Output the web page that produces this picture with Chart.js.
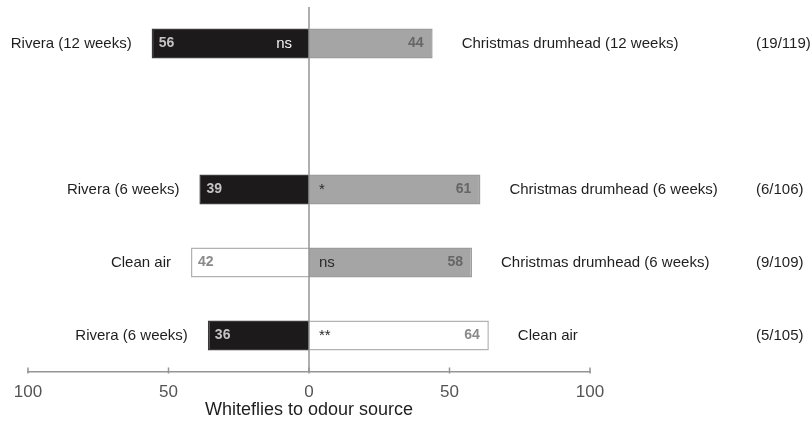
<!DOCTYPE html>
<html>
<head>
<meta charset="utf-8">
<script src="https://cdn.jsdelivr.net/npm/chart.js@4"></script>
<style>
  html, body { margin: 0; padding: 0; background: #ffffff; }
  #wrap { width: 812px; height: 421px; position: relative; }
</style>
</head>
<body>
<div id="wrap"><canvas id="chart"></canvas></div>
<script>
// Two-choice olfactometer tests: share of whiteflies choosing each odour source.
// The empty slot (null) keeps the gap between the 12-week and the 6-week tests.
const leftSources  = ['Rivera (12 weeks)', null, 'Rivera (6 weeks)', 'Clean air', 'Rivera (6 weeks)'];
const rightSources = ['Christmas drumhead (12 weeks)', null, 'Christmas drumhead (6 weeks)', 'Christmas drumhead (6 weeks)', 'Clean air'];
const leftPercent  = [56, null, 39, 42, 36];
const rightPercent = [44, null, 61, 58, 64];
const significance = ['ns', null, '*', 'ns', '**'];
const nonChoosers  = ['(19/119)', null, '(6/106)', '(9/109)', '(5/105)'];
const tickValues   = [-100, -50, 0, 50, 100];
const axisTitle    = 'Whiteflies to odour source';

const FONT = '"Liberation Sans", Arial, Helvetica, sans-serif';

// Fill / outline / text colours for each kind of odour source
function sourceStyle(name) {
  if (!name) return { fill: '#ffffff', edge: '#ffffff', value: '#000', sig: '#000' };
  if (name.startsWith('Rivera')) return { fill: '#1c1a1a', edge: '#3a3838', value: '#c4c4c4', sig: '#f2f2f2' };
  if (name.startsWith('Christmas')) return { fill: '#a5a5a5', edge: '#9c9c9c', value: '#666666', sig: '#2a2a2a' };
  return { fill: '#ffffff', edge: '#b2b2b2', value: '#8a8a8a', sig: '#2a2a2a' };
}

const slots = leftSources.map((_, i) => String(i));

function drawCentreLine(chart) {
  const { ctx, chartArea, scales } = chart;
  const x0 = scales.x.getPixelForValue(0);
  ctx.save();
  ctx.strokeStyle = '#959595';
  ctx.lineWidth = 1.5;
  ctx.beginPath();
  ctx.moveTo(x0, chartArea.top);
  ctx.lineTo(x0, chartArea.bottom);
  ctx.stroke();
  ctx.restore();
}

const labelPlugin = {
  id: 'choiceLabels',
  afterDatasetsDraw(chart) {
    const { ctx, chartArea, scales } = chart;
    const x0 = scales.x.getPixelForValue(0);
    const leftMeta = chart.getDatasetMeta(0);
    const rightMeta = chart.getDatasetMeta(1);

    // centre line drawn over the bars
    drawCentreLine(chart);

    ctx.save();
    // small upward tick marks on the axis
    ctx.strokeStyle = '#959595';
    ctx.lineWidth = 1.5;
    tickValues.forEach(v => {
      const tx = scales.x.getPixelForValue(v);
      ctx.beginPath();
      ctx.moveTo(tx, chartArea.bottom + 1.5);
      ctx.lineTo(tx, chartArea.bottom - 4.5);
      ctx.stroke();
    });

    ctx.textBaseline = 'middle';
    leftSources.forEach((name, i) => {
      if (leftPercent[i] == null) return;
      const lb = leftMeta.data[i];
      const rb = rightMeta.data[i];
      const y = lb.y;
      const leftEdge = Math.min(lb.x, lb.base);
      const rightEdge = Math.max(rb.x, rb.base);
      const ls = sourceStyle(name);
      const rs = sourceStyle(rightSources[i]);

      // percentages inside the bars
      ctx.font = 'bold 14px ' + FONT;
      ctx.fillStyle = ls.value;
      ctx.textAlign = 'left';
      ctx.fillText(String(leftPercent[i]), leftEdge + 7, y);
      ctx.fillStyle = rs.value;
      ctx.textAlign = 'right';
      ctx.fillText(String(rightPercent[i]), rightEdge - 9, y);

      // significance mark sits in the bar of the preferred source
      ctx.font = '15px ' + FONT;
      if (leftPercent[i] > rightPercent[i]) {
        ctx.fillStyle = ls.sig;
        ctx.textAlign = 'right';
        ctx.fillText(significance[i], x0 - 17, y);
      } else {
        ctx.fillStyle = rs.sig;
        ctx.textAlign = 'left';
        ctx.fillText(significance[i], x0 + 10, y);
      }

      // source names beside the bars
      ctx.fillStyle = '#1e1e1e';
      ctx.textAlign = 'right';
      ctx.fillText(name, leftEdge - 20, y);
      ctx.textAlign = 'left';
      ctx.fillText(rightSources[i], rightEdge + 29, y);

      // non-responders / total released
      ctx.fillText(nonChoosers[i], chartArea.right + 166, y);
    });
    ctx.restore();
  }
};

new Chart(document.getElementById('chart'), {
  type: 'bar',
  data: {
    labels: slots,
    datasets: [
      {
        label: 'left',
        data: leftPercent.map(v => (v == null ? null : -v)),
        backgroundColor: leftSources.map(n => sourceStyle(n).fill),
        borderColor: leftSources.map(n => sourceStyle(n).edge),
        borderWidth: 1.5,
        barPercentage: 0.41,
        categoryPercentage: 1
      },
      {
        label: 'right',
        data: rightPercent,
        backgroundColor: rightSources.map(n => sourceStyle(n).fill),
        borderColor: rightSources.map(n => sourceStyle(n).edge),
        borderWidth: 1.5,
        barPercentage: 0.41,
        categoryPercentage: 1
      }
    ]
  },
  options: {
    indexAxis: 'y',
    responsive: true,
    maintainAspectRatio: false,
    animation: false,
    layout: { padding: { left: 28, right: 222, top: 7, bottom: 0 } },
    plugins: {
      legend: { display: false },
      tooltip: { enabled: false }
    },
    scales: {
      x: {
        type: 'linear',
        stacked: true,
        min: -100,
        max: 100,
        afterBuildTicks(scale) {
          scale.ticks = tickValues.map(v => ({ value: v }));
        },
        grid: { display: false, drawTicks: false },
        border: { display: true, color: '#959595', width: 1.5 },
        ticks: {
          padding: 12,
          color: '#555555',
          font: { family: FONT, size: 17, lineHeight: 1.0 },
          callback: v => String(Math.abs(v))
        },
        title: {
          display: true,
          text: axisTitle,
          color: '#1e1e1e',
          font: { family: FONT, size: 18, lineHeight: 1.0 },
          padding: { top: -12, bottom: 2 }
        }
      },
      y: {
        stacked: true,
        display: false
      }
    }
  },
  plugins: [labelPlugin]
});
</script>
</body>
</html>
